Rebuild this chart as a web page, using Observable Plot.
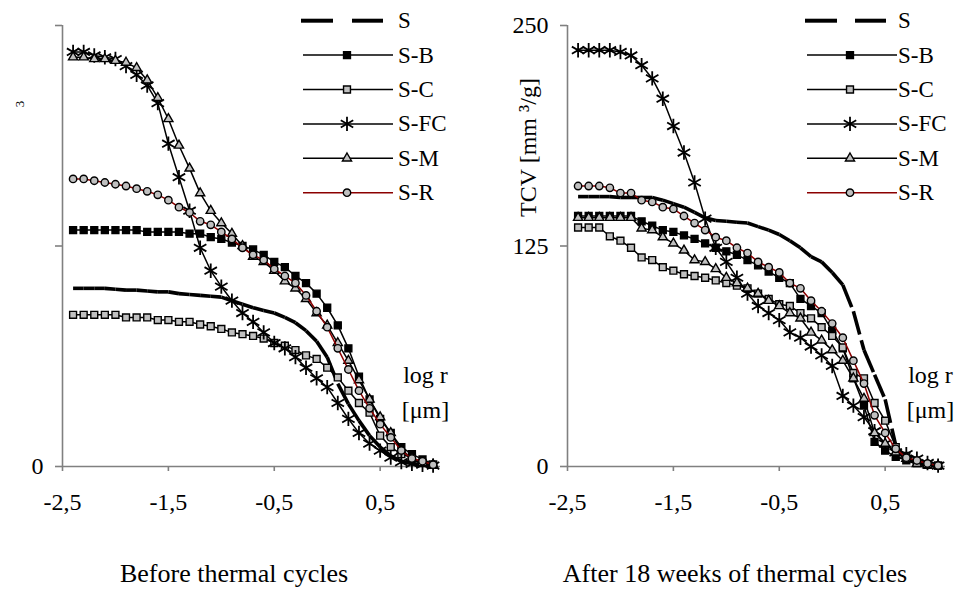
<!DOCTYPE html>
<html><head><meta charset="utf-8">
<script src="https://cdn.jsdelivr.net/npm/d3@7"></script>
<script src="https://cdn.jsdelivr.net/npm/@observablehq/plot@0.6"></script>
<style>
html,body{margin:0;padding:0;background:#fff;}
#wrap{position:relative;width:959px;height:591px;overflow:hidden;font-family:"Liberation Serif","Times New Roman",serif;}
#wrap > svg{position:absolute;top:0;}
</style></head><body><div id="wrap"></div>
<script>
// ---------- data ----------
const logR = [-2.4,-2.3,-2.2,-2.1,-2.0,-1.9,-1.8,-1.7,-1.6,-1.5,-1.4,-1.3,-1.2,-1.1,-1.0,-0.9,-0.8,-0.7,-0.6,-0.5,-0.4,-0.3,-0.2,-0.1,0.0,0.1,0.2,0.3,0.4,0.5,0.6,0.7,0.8,0.9,1.0];

// Before thermal cycles
const S_before   = [101,101,101,101,100.5,100,100,99.5,99,99,98,97.5,97,96.5,96,94,92,90,88.5,87,84.5,81.5,77,71,62,47,35.5,26,17.5,11,6,3,1.5,1,0.5];
const SB_before  = [134,134,134,134,134,134,134,133,133,133,133,132,132,130,129,127,125,123,120,116,113,108,104,98,90,80,67,51,38,27,19,11,7,4,1];
const SC_before  = [86,86,86,86,86,84.5,84.5,84.5,83,83,82,82,80.5,79.5,78,76,75,74,72.5,70,68.5,66,63,61,56,50.5,43,36,30.5,17.5,11,7,5,2,1];
const SFC_before = [235,235,233,232,231,227,222,216,206,183,164,145,124,111,102,94,87,82,76,70,67,62,56,50,45,36,27,19,13,9,5,2.5,1.5,1,0.5];
const SM_before  = [232,232,231,231,230,229,226,219,209,197,182,169,155,145,138,132,125,119,116,111,105,101,95,87,80,70,60,49,38,28,19,9,4.5,2,1];
const SR_before  = [163,163,162,161,160,159,157.5,156,154,151,147,144,139,137,133,129,124,120,117,112,108,104,97,88,79,67,55,43,33,24,16.5,9,4.5,3,1];

// After 18 weeks of thermal cycles
const S_after    = [153,153,153,153,152.5,152.5,152.5,152.5,151,149,147,144,141,139.5,139,138.5,138,136,134,131.5,128,124,119,116,110,103,88,66,52,38,12,4,2,1,0.5];
const SB_after   = [142,142,142,142,142,142,139,136.5,134,133,131,129,126.5,124,122,120,117,114,110.5,107,104,95,91,87,77,67,50,34.5,14,9,5.5,3.5,2,1,0.5];
const SC_after   = [135.5,135.5,135.5,130.5,128,124,118.5,117,113,111,109,108,107,105.5,104,102.5,101,98,95,92,91,87,84,79,74,67.5,53,50,36,26,11,6,2.3,1,0.5];
const SFC_after  = [236,236,236,236,235,233,227.5,220,208.5,193,178,161,140.5,124,116,107,98,91,87,83,76,73,68,63,57,40,34.5,28,20,13,8,7,4.5,2,0.5];
const SM_after   = [141,141,141,141,141,141,135,134,130,126.5,122.5,117,116,112,107,104,101,98,94,91,87,84,76,71.5,66,60,50,38.5,19,13,8,4.5,1.5,0.8,0.5];
const SR_after   = [159,159,159,158,155,155,151,150,147,146,142,138,134,130,128,124,121,116,113,110,104,101,94,88,81,73,60,47,29,19,10,5,3.4,1.7,0.5];

const seriesNames = ["S","S-B","S-C","S-FC","S-M","S-R"];
const yTicks = [0,125,250];
const xTicks = [-2.5,-1.5,-0.5,0.5];
const captions = ["Before thermal cycles","After 18 weeks of thermal cycles"];
const yLabel = "TCV [mm \u00b3/g]";
const xLabelLines = ["log r","[\u03bcm]"];

// ---------- styles ----------
const FONT = '"Liberation Serif","Times New Roman",serif';
const GREY = "#c0c0c0";
const AXIS = "#808080";
const sty = {
  "S-B":  {symbol:"square",   fill:"black", stroke:"black", r:3.9, line:"black"},
  "S-C":  {symbol:"square",   fill:GREY,    stroke:"black", r:3.9, line:"black"},
  "S-FC": {symbol:"asterisk", fill:"none",  stroke:"black", r:6.8, line:"black"},
  "S-M":  {symbol:"triangle", fill:GREY,    stroke:"black", r:3.4, line:"black"},
  "S-R":  {symbol:"circle",   fill:GREY,    stroke:"black", r:3.7, line:"#8b0000"}
};

const wrap = document.getElementById("wrap");

function panel(vals, o) {
  const marks = [];
  marks.push(Plot.ruleX([-2.5], {stroke:AXIS, strokeWidth:1.6}));
  marks.push(Plot.ruleY([0], {stroke:AXIS, strokeWidth:1.6}));
  marks.push(Plot.axisY(yTicks, {anchor:"left", tickSize:7, tickPadding:12, stroke:AXIS, strokeWidth:1.6,
    fontSize:24, tickFormat:o.yFmt, label:null}));
  marks.push(Plot.axisX(xTicks, {anchor:"bottom", tickSize:5, tickPadding:21, stroke:AXIS, strokeWidth:1.6,
    fontSize:24, tickFormat:d => String(d).replace(".", ","), label:null}));
  // S : per-segment dashes (pattern restarts on each segment)
  const s = vals["S"];
  const segs = logR.slice(1).map((x, i) => ({x1:logR[i], y1:s[i], x2:x, y2:s[i+1]}));
  marks.push(Plot.link(segs, {x1:"x1", y1:"y1", x2:"x2", y2:"y2", stroke:"black", strokeWidth:3.6,
    strokeDasharray:"24,6", strokeLinecap:"butt"}));
  for (const name of seriesNames.slice(1)) {
    const st = sty[name];
    const data = logR.map((x, i) => ({x, y:vals[name][i]}));
    marks.push(Plot.line(data, {x:"x", y:"y", stroke:st.line, strokeWidth:1.5}));
    marks.push(Plot.dot(data, {x:"x", y:"y", symbol:st.symbol, r:st.r, fill:st.fill, stroke:st.stroke,
      strokeWidth: name === "S-FC" ? 1.8 : 1.4}));
  }
  marks.push(Plot.text([xLabelLines[0]], {frameAnchor:"bottom-right", dx:-15, dy:-84, textAnchor:"middle", fontSize:24}));
  marks.push(Plot.text([xLabelLines[1]], {frameAnchor:"bottom-right", dx:-15, dy:-49, textAnchor:"middle", fontSize:24}));
  if (o.yText) marks.push(Plot.text([o.yText], {frameAnchor:"left", dx:o.yDx, dy:o.yDy, rotate:-90,
    textAnchor:"middle", lineAnchor:"middle", fontSize:o.yFs}));
  const svg = Plot.plot({
    width:o.width, height:520,
    marginLeft:o.ml, marginRight:o.mr, marginTop:25, marginBottom:54,
    x:{domain:[-2.5,1.07]},
    y:{domain:[0,250]},
    style:{fontFamily:FONT, fontSize:"24px", background:"transparent", overflow:"visible", color:"black"},
    marks
  });
  svg.style.left = o.left + "px";
  wrap.appendChild(svg);
}

panel({"S":S_before,"S-B":SB_before,"S-C":SC_before,"S-FC":SFC_before,"S-M":SM_before,"S-R":SR_before},
  {left:0, width:480, ml:62, mr:40, yFmt:d => d === 0 ? "0" : "", yText:"3", yDx:-43, yDy:-142, yFs:13});
panel({"S":S_after,"S-B":SB_after,"S-C":SC_after,"S-FC":SFC_after,"S-M":SM_after,"S-R":SR_after},
  {left:480, width:479, ml:87, mr:14, yFmt:d => String(d), yText:yLabel, yDx:-39, yDy:-98.5, yFs:24});

// ---------- legends & captions overlay ----------
const ov = d3.select(wrap).append("svg")
  .attr("width", 959).attr("height", 591)
  .style("left", "0px").style("pointer-events", "none")
  .style("font-family", FONT);

const rowY = [20.7, 55.1, 89.5, 123.9, 158.3, 192.7];
const legendPos = [
  {lx1:303, lx2:393, mx:347, tx:398, d1:[301,333], d2:[352,383]},
  {lx1:807, lx2:897, mx:850, tx:898, d1:[805,837], d2:[855,886]}
];
const symMap = {square:d3.symbolSquare, asterisk:d3.symbolAsterisk, triangle:d3.symbolTriangle, circle:d3.symbolCircle};
for (const L of legendPos) {
  seriesNames.forEach((name, i) => {
    const y = rowY[i];
    if (name === "S") {
      for (const d of [L.d1, L.d2]) {
        ov.append("line").attr("x1", d[0]).attr("x2", d[1]).attr("y1", y).attr("y2", y)
          .attr("stroke", "black").attr("stroke-width", 4);
      }
    } else {
      const st = sty[name];
      ov.append("line").attr("x1", L.lx1).attr("x2", L.lx2).attr("y1", y).attr("y2", y)
        .attr("stroke", st.line).attr("stroke-width", 1.5);
      ov.append("path")
        .attr("d", d3.symbol(symMap[st.symbol], Math.PI * st.r * st.r)())
        .attr("transform", `translate(${L.mx},${y})`)
        .attr("fill", st.fill).attr("stroke", st.stroke)
        .attr("stroke-width", name === "S-FC" ? 1.8 : 1.4);
    }
    ov.append("text").attr("x", L.tx).attr("y", y).attr("dy", "0.33em")
      .attr("font-size", 23).text(name);
  });
}
const capX = [234, 735];
captions.forEach((c, i) => {
  ov.append("text").attr("x", capX[i]).attr("y", 582).attr("text-anchor", "middle")
    .attr("font-size", 26).text(c);
});
</script>
</body></html>
